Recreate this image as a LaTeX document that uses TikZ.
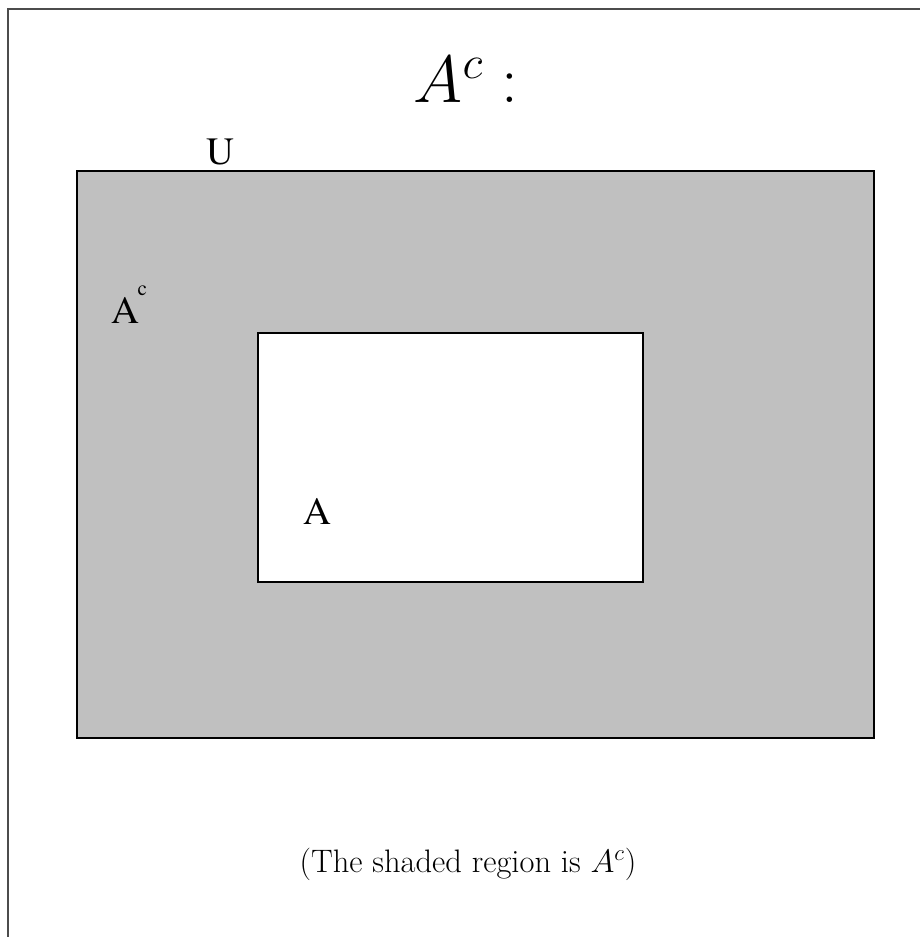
\RequirePackage{fix-cm}
\documentclass[tikz,border=0pt]{standalone}
\usepackage{fontspec}
\newfontfamily\timesfont{texgyretermes-regular.otf}
\usetikzlibrary{positioning}
\definecolor{shadegray}{RGB}{192,192,192}

\begin{document}
\begin{tikzpicture}[x=0.02cm, y=-0.02cm,
  region/.style={draw, line width=1pt},
  setlabel/.style={font={\fontsize{22}{24}\timesfont}, inner sep=0pt},
  every node/.style={inner sep=0pt}
]
\useasboundingbox (0,0) rectangle (920,937);

% frame
\draw[line width=1pt, black!70] (920,9) -- (8,9) -- (8,937);

% universe and set A
\draw[region, fill=shadegray] (77,171) rectangle (874,738);
\draw[region, fill=white] (258,333) rectangle (643,582);

% labels
\node[font=\fontsize{38}{42}\selectfont] (title) at (466,80) {$A^c:$};
\node[setlabel] (ulabel) at (220,152) {U};
\node[setlabel, anchor=base west] (aclabel) at (111,323)
  {A\kern-1pt\raisebox{0.72em}{\fontsize{12}{12}\selectfont c}};
\node[setlabel] (alabel) at (317,511) {A};
\node[font=\fontsize{18.5}{22}\selectfont] (caption) at (468,864)
  {(The shaded region is $A^c$)};
\end{tikzpicture}
\end{document}
